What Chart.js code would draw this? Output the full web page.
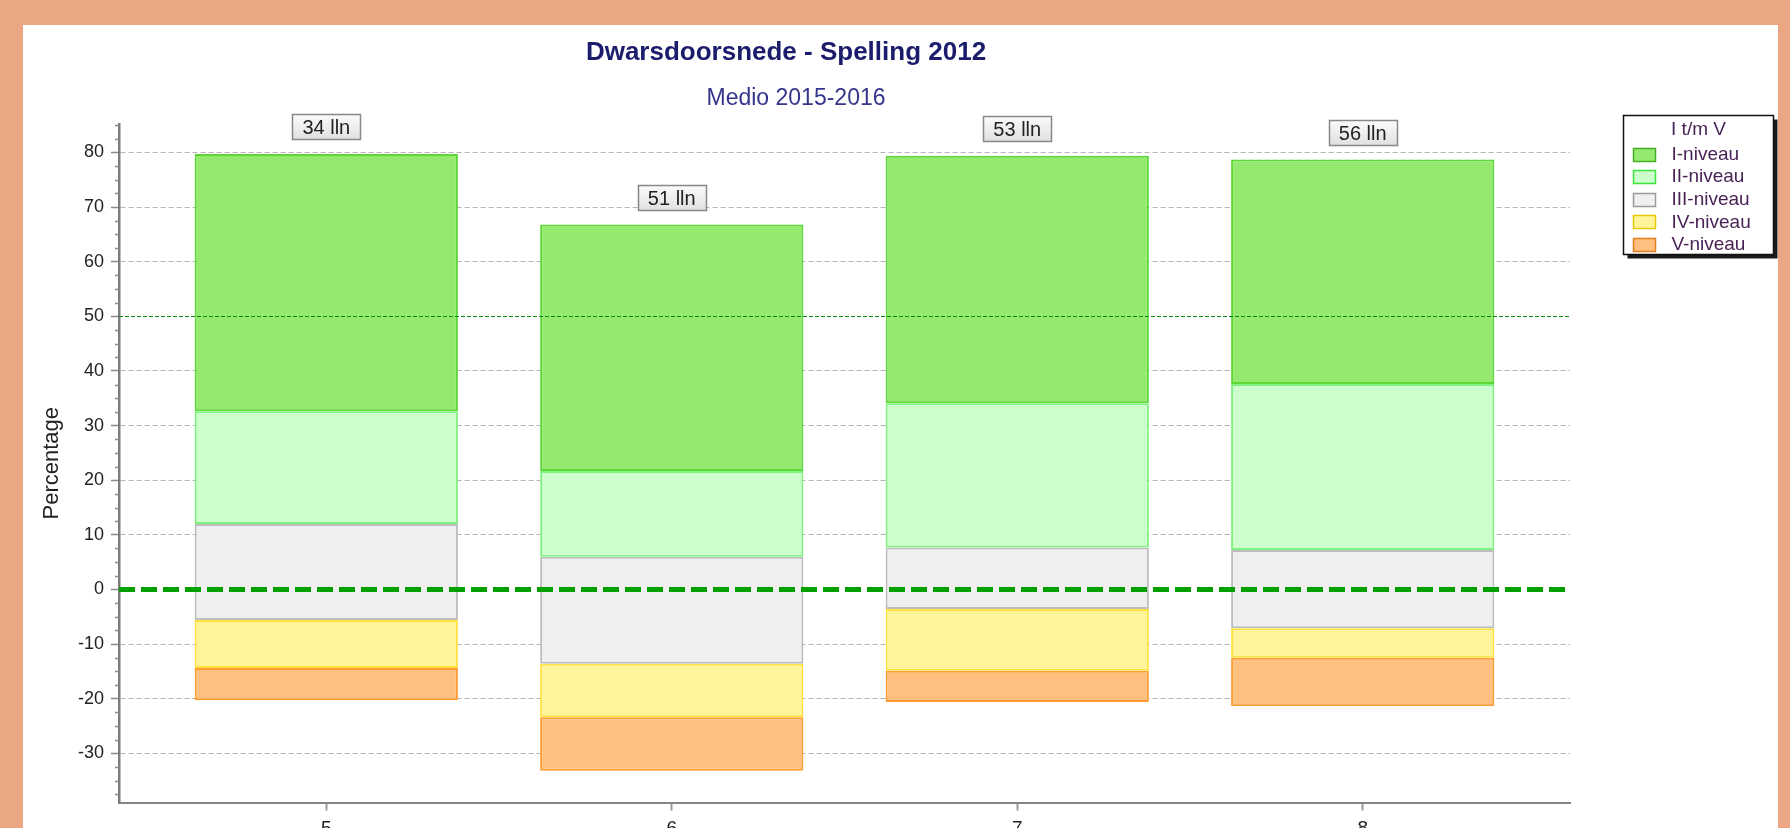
<!DOCTYPE html>
<html>
<head>
<meta charset="utf-8">
<title>Dwarsdoorsnede - Spelling 2012</title>
<script src="https://cdn.jsdelivr.net/npm/chart.js@4.4.1/dist/chart.umd.min.js"></script>
<style>
  html, body { margin: 0; padding: 0; width: 1790px; height: 828px; overflow: hidden; background: #eba684; }
  #panel { position: absolute; left: 23px; top: 25px; width: 1755px; height: 830px; background: #fff; }
  canvas { display: block; }
</style>
</head>
<body>
<div id="panel"><canvas id="crossSection" width="1755" height="830"></canvas></div>
<script>
'use strict'

// groups (x axis) and pupil counts shown above the bars
var groups = [5, 6, 7, 8];
var pupilLabels = ['34 lln', '51 lln', '53 lln', '56 lln'];

// percentage of pupils per level, per group
var levelNames = ['I-niveau', 'II-niveau', 'III-niveau', 'IV-niveau', 'V-niveau'];
var levelI = [47.1, 45.1, 45.3, 41.1];
var levelII = [20.6, 15.7, 26.4, 30.4];
var levelIII = [17.6, 19.6, 11.3, 14.3];
var levelIV = [8.8, 9.8, 11.3, 5.4];
var levelV = [5.9, 9.8, 5.7, 8.9];
// where each bar starts (bottom of V-niveau)
var barBottoms = [-20.3, -33.2, -20.6, -21.4];

var yTicks = [-30, -20, -10, 0, 10, 20, 30, 40, 50, 60, 70, 80];
var xTicks = [5, 6, 7, 8];

var fills = ['#96e96f', '#ccffcc', '#efefef', '#fff499', '#ffc07f'];
var borders = ['#5cd836', '#80f280', '#bdbdbd', '#ffe23f', '#ff9c33'];
var swatchBorders = ['#45b025', '#3ee43e', '#9a9a9a', '#e8c900', '#e07e1c'];

var FONT = '"Liberation Sans", Arial, sans-serif';
Chart.defaults.font.family = FONT;

function buildRanges() {
  var ranges = [[], [], [], [], []];
  for (var i = 0; i < groups.length; i++) {
    var lo = barBottoms[i];
    var parts = [levelV[i], levelIV[i], levelIII[i], levelII[i], levelI[i]];
    for (var k = 0; k < parts.length; k++) {
      var hi = lo + parts[k];
      ranges[4 - k].push({ x: groups[i], y: [lo, hi] });
      lo = hi;
    }
  }
  return ranges;
}

var ranges = buildRanges();
var datasets = levelNames.map(function (name, i) {
  return {
    label: name,
    data: ranges[i],
    backgroundColor: fills[i],
    borderColor: borders[i],
    borderWidth: 2,
    borderSkipped: false,
    grouped: false,
    categoryPercentage: 1,
    barPercentage: 0.762
  };
});

// title + subtitle
var headings = {
  id: 'headings',
  afterDraw: function (chart) {
    var ctx = chart.ctx;
    ctx.save();
    ctx.textAlign = 'center';
    ctx.textBaseline = 'middle';
    ctx.fillStyle = '#1c1c6c';
    ctx.font = 'bold 26px ' + FONT;
    ctx.fillText('Dwarsdoorsnede - Spelling 2012', 763, 28);
    ctx.fillStyle = '#35358c';
    ctx.font = '23px ' + FONT;
    ctx.fillText('Medio 2015-2016', 773, 74);
    ctx.restore();
  }
};

// minor ticks on the y axis
var minorTicks = {
  id: 'minorTicks',
  afterDraw: function (chart) {
    var y = chart.scales.y;
    var ctx = chart.ctx;
    ctx.save();
    ctx.strokeStyle = '#8a8a8a';
    ctx.lineWidth = 1.5;
    for (var v = -37.5; v <= 85; v += 2.5) {
      if (v % 10 === 0) continue;
      var py = Math.round(y.getPixelForValue(v)) + 0.5;
      ctx.beginPath();
      ctx.moveTo(y.right - 4, py);
      ctx.lineTo(y.right, py);
      ctx.stroke();
    }
    ctx.restore();
  }
};

// 0 and 50 reference lines, pupil count boxes
var overlays = {
  id: 'overlays',
  afterDatasetsDraw: function (chart) {
    var ctx = chart.ctx;
    var area = chart.chartArea;
    var y = chart.scales.y;
    ctx.save();

    var y50 = Math.round(y.getPixelForValue(50)) + 0.5;
    ctx.strokeStyle = '#0b870b';
    ctx.lineWidth = 1;
    ctx.setLineDash([4, 2]);
    ctx.beginPath();
    ctx.moveTo(area.left, y50);
    ctx.lineTo(area.right, y50);
    ctx.stroke();

    var y0 = y.getPixelForValue(0);
    ctx.strokeStyle = '#00a000';
    ctx.lineWidth = 5;
    ctx.setLineDash([16, 6]);
    ctx.beginPath();
    ctx.moveTo(area.left, y0);
    ctx.lineTo(area.right - 2, y0);
    ctx.stroke();
    ctx.setLineDash([]);

    var top = chart.getDatasetMeta(0).data;
    ctx.font = '20px ' + FONT;
    ctx.textAlign = 'center';
    ctx.textBaseline = 'middle';
    top.forEach(function (bar, i) {
      var tw = ctx.measureText(pupilLabels[i]).width;
      var w = Math.round(tw + 20);
      var h = 25;
      var bx = Math.round(bar.x - w / 2) + 0.5;
      var by = Math.round(bar.y - 15 - h) + 0.5;
      var g = ctx.createLinearGradient(0, by, 0, by + h);
      g.addColorStop(0, '#fbfbfb');
      g.addColorStop(1, '#e0e0e0');
      ctx.fillStyle = g;
      ctx.fillRect(bx, by, w, h);
      ctx.strokeStyle = '#888';
      ctx.lineWidth = 1.5;
      ctx.strokeRect(bx, by, w, h);
      ctx.fillStyle = '#222';
      ctx.fillText(pupilLabels[i], bar.x, by + h / 2 + 1);
    });
    ctx.restore();
  }
};

// framed legend with drop shadow
var legendBox = {
  id: 'legendBox',
  afterDraw: function (chart) {
    var ctx = chart.ctx;
    var x = Math.round(chart.chartArea.right + 53) + 0.5;
    var y = 90.5, w = 150, h = 139;
    ctx.save();
    ctx.fillStyle = '#1a1a1a';
    ctx.fillRect(x + 4, y + 4, w, h);
    ctx.fillStyle = '#fff';
    ctx.fillRect(x, y, w, h);
    ctx.strokeStyle = '#111';
    ctx.lineWidth = 1.5;
    ctx.strokeRect(x, y, w, h);

    ctx.font = '19px ' + FONT;
    ctx.textBaseline = 'middle';
    ctx.textAlign = 'center';
    ctx.fillStyle = '#4a2356';
    ctx.fillText('I t/m V', x + w / 2, y + 14);
    ctx.textAlign = 'left';
    chart.data.datasets.forEach(function (ds, i) {
      var ry = y + 38 + i * 22.6;
      var sy = Math.round(ry - 6) + 0.5;
      ctx.fillStyle = ds.backgroundColor;
      ctx.fillRect(x + 10, sy, 22, 13);
      ctx.strokeStyle = swatchBorders[i];
      ctx.lineWidth = 1.5;
      ctx.strokeRect(x + 10, sy, 22, 13);
      ctx.fillStyle = '#4a2356';
      ctx.fillText(ds.label, x + 48, ry + 1);
    });
    ctx.restore();
  }
};

var canvas = document.getElementById('crossSection');
var crossSectionChart = new Chart(canvas, {
  type: 'bar',
  data: { datasets: datasets },
  plugins: [headings, minorTicks, overlays, legendBox],
  options: {
    responsive: false,
    animation: false,
    layout: { padding: { top: 99, right: 208, bottom: 0, left: 0 } },
    plugins: {
      legend: { display: false },
      tooltip: { enabled: false },
      title: { display: false }
    },
    scales: {
      x: {
        type: 'linear',
        position: 'bottom',
        min: 4.4,
        max: 8.6,
        offset: false,
        afterBuildTicks: function (scale) {
          scale.ticks = xTicks.map(function (v) { return { value: v }; });
        },
        afterFit: function (scale) { scale.height = 52.5; },
        grid: { offset: false, drawOnChartArea: false, tickLength: 8, tickColor: '#9a9a9a', tickWidth: 2 },
        border: { display: true, color: '#858585', width: 2 },
        ticks: { color: '#222', font: { size: 19 }, padding: 7, autoSkip: false, maxRotation: 0 }
      },
      y: {
        type: 'linear',
        min: -39,
        max: 85.2,
        afterBuildTicks: function (scale) {
          scale.ticks = yTicks.map(function (v) { return { value: v }; });
        },
        afterFit: function (scale) { scale.width = 96; },
        grid: {
          color: function (c) {
            var v = c.tick ? c.tick.value : null;
            return (v === 0 || v === 50) ? 'rgba(0,0,0,0)' : '#b4b4b4';
          },
          lineWidth: 1,
          tickLength: 8,
          tickColor: '#8a8a8a',
          tickWidth: 1.5
        },
        border: { display: true, color: '#7d7d7d', width: 2.5, dash: [5, 3] },
        ticks: { color: '#222', font: { size: 18 }, padding: 7 },
        title: {
          display: true,
          text: 'Percentage',
          color: '#222',
          font: { size: 22 },
          padding: { top: 16, bottom: 0 }
        }
      }
    }
  }
});
</script>
</body>
</html>
